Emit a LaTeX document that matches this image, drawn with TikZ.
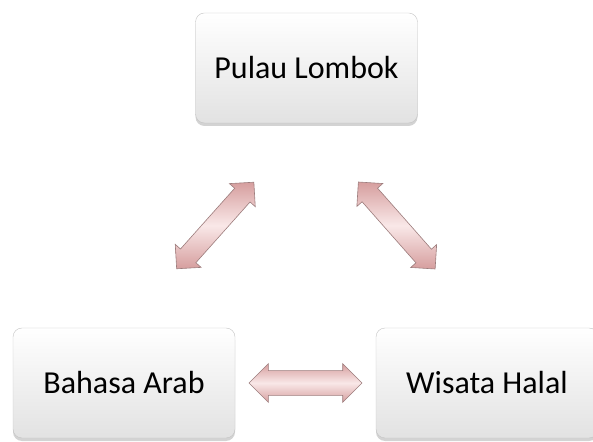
\documentclass[tikz,border=0pt]{standalone}
\usepackage{fontspec}
\setmainfont{Carlito}
\usetikzlibrary{shapes.arrows,shadows}
\definecolor{boxline}{HTML}{C4C4C4}
\definecolor{boxlow}{HTML}{E2E2E2}
\definecolor{arrline}{HTML}{9C7C7C}
\definecolor{arrdark}{HTML}{D69E9E}
\definecolor{arrlight}{HTML}{F9E8E8}
\tikzset{
  topic/.style={draw=boxline,rounded corners=9pt,minimum width=222pt,minimum height=110pt,
    top color=white,bottom color=boxlow,
    drop shadow={shadow xshift=0pt,shadow yshift=-3pt,opacity=0.35},
    font=\fontsize{32}{38}\selectfont},
  link/.style={double arrow,draw=arrline,line width=0.6pt,inner xsep=0pt,inner ysep=12pt,
    double arrow head extend=7pt,double arrow head indent=0pt,
    top color=arrdark,bottom color=arrdark,middle color=arrlight}
}

\begin{document}
\begin{tikzpicture}[node distance=315pt]
      \useasboundingbox (0,0) rectangle (593pt,441pt);
      \node [topic] (lombok) at (306.5pt,373pt) {Pulau Lombok};
      \node [topic,below of=lombok,xshift=-182.5pt] (arab) {Bahasa Arab};
      \node [topic,right of=arab,node distance=363pt] (halal) {Wisata Halal};

      \path (arab.north) -- node [link,sloped,inner ysep=10pt,minimum height=116pt] {} (lombok.south);
      \path (halal.north) -- node [link,sloped,inner ysep=10pt,minimum height=116pt] {} (lombok.south);
      \path (arab) -- node [link,minimum height=113pt] {} (halal);
    \end{tikzpicture}
\end{document}
